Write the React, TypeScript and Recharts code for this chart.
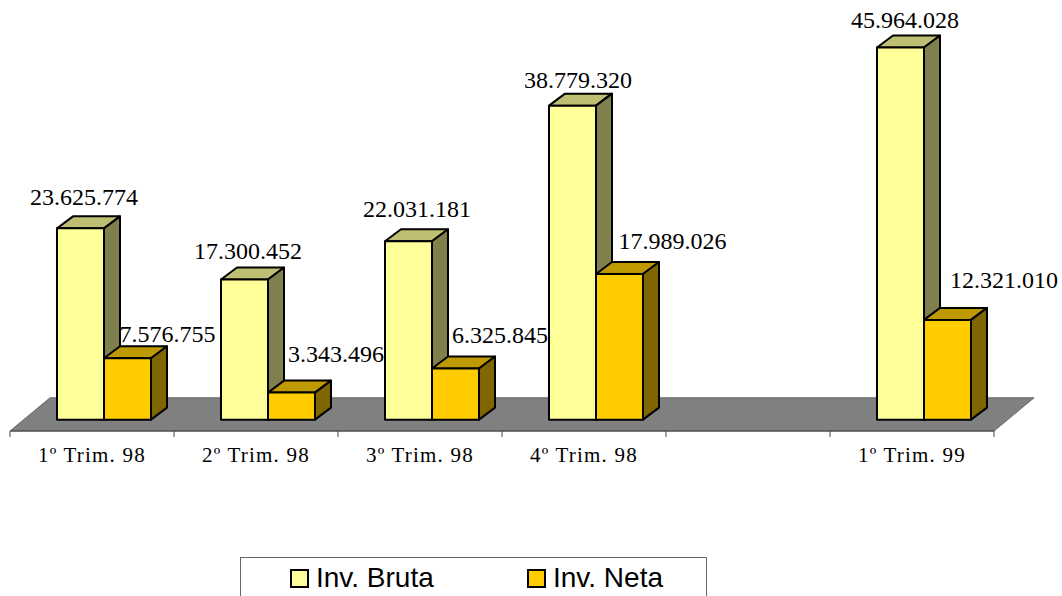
import { Bar, BarChart, LabelList, Legend, ReferenceArea, XAxis, YAxis } from "recharts";

const categories = ["1º Trim. 98", "2º Trim. 98", "3º Trim. 98", "4º Trim. 98", "", "1º Trim. 99"];
const invBruta = [23625774, 17300452, 22031181, 38779320, null, 45964028];
const invNeta = [7576755, 3343496, 6325845, 17989026, null, 12321010];

// label placement, one entry per drawn bar (the empty category has none)
const brutaLabelDx = [27, 27, 32, 29, 28];
const brutaLabelRise = [23, 21, 24, 18, 19];
const netaLabelDx = [63.5, 68, 68, 76.5, 80];
const netaLabelRise = [16, 31, 25, 25, 32];

const data = categories.map((name, i) => ({ name, bruta: invBruta[i], neta: invNeta[i] }));

const BAR_SHIFT = 12;
const DEPTH_X = 16;
const DEPTH_Y = 12;
const BRUTA = { front: "#FFFF99", top: "#BFBF73", side: "#80804D" };
const NETA = { front: "#FFCC00", top: "#BF9900", side: "#806600" };

const fmt = (v: number) => v.toLocaleString("de-DE");

const Box3D = (colors: typeof BRUTA) => (props: any) => {
  const { x, y, width, height } = props;
  if (!height) return null;
  const l = x + BAR_SHIFT;
  const r = l + width;
  const b = y + height;
  return (
    <g stroke="#000" strokeWidth={2} strokeLinejoin="round">
      <polygon
        points={`${l},${y} ${l + DEPTH_X},${y - DEPTH_Y} ${r + DEPTH_X},${y - DEPTH_Y} ${r},${y}`}
        fill={colors.top}
      />
      <polygon
        points={`${r},${y} ${r + DEPTH_X},${y - DEPTH_Y} ${r + DEPTH_X},${b - DEPTH_Y} ${r},${b}`}
        fill={colors.side}
      />
      <rect x={l} y={y} width={width} height={height} fill={colors.front} />
    </g>
  );
};

const barLabel = (dx: number[], rise: number[]) => (props: any) => {
  const { x, y, value, index } = props;
  if (value == null) return null;
  return (
    <text
      x={x + BAR_SHIFT + dx[index]}
      y={y - rise[index]}
      textAnchor="middle"
      fontFamily="Liberation Serif"
      fontSize={24}
      fill="#000"
    >
      {fmt(value)}
    </text>
  );
};

const Floor = (props: any) => {
  const { x, y, width, height } = props;
  const b = y + height;
  return (
    <polygon
      points={`${x},${b} ${x + width},${b} ${x + width + 40},${y} ${x + 40},${y}`}
      fill="#808080"
      stroke="#666"
      strokeWidth={1}
    />
  );
};

const CategoryTick = (props: any) => {
  const { x, y, payload, index } = props;
  const half = 82;
  return (
    <g>
      <line x1={x - half} x2={x - half} y1={y} y2={y + 6} stroke="#444" />
      {index === categories.length - 1 && (
        <line x1={x + half} x2={x + half} y1={y} y2={y + 6} stroke="#444" />
      )}
      <text
        x={x}
        y={y + 31}
        textAnchor="middle"
        fontFamily="Liberation Serif"
        fontSize={21}
        letterSpacing={1.2}
        fill="#000"
      >
        {payload.value}
      </text>
    </g>
  );
};

const LegendBox = (props: any) => {
  const starts = [49, 286];
  return (
    <div
      style={{
        position: "relative",
        width: 467,
        height: 60,
        boxSizing: "border-box",
        border: "1px solid #666",
        background: "#fff",
      }}
    >
      {(props.payload || []).map((item: any, i: number) => (
        <div key={item.value}>
          <div
            style={{
              position: "absolute",
              left: starts[i],
              top: 11,
              width: 19,
              height: 19,
              boxSizing: "border-box",
              border: "2px solid #000",
              background: item.color,
            }}
          />
          <div
            style={{
              position: "absolute",
              left: starts[i] + 26,
              top: 3,
              fontFamily: "Liberation Sans",
              fontSize: 28,
              lineHeight: "34px",
              color: "#000",
              whiteSpace: "nowrap",
            }}
          >
            {item.value}
          </div>
        </div>
      ))}
    </div>
  );
};

export default function App() {
  return (
    <div style={{ position: "absolute", left: 0, top: 0, width: 1062, height: 596, overflow: "hidden" }}>
      <BarChart
        width={1062}
        height={596}
        data={data}
        margin={{ top: 18, right: 68, bottom: 135, left: 10 }}
        barSize={47}
        barGap={0}
      >
        <XAxis
          dataKey="name"
          height={30}
          interval={0}
          tick={<CategoryTick />}
          tickSize={0}
          tickMargin={0}
          tickLine={false}
          axisLine={{ stroke: "#444" }}
        />
        <YAxis hide domain={[-1400000, 49600000]} allowDataOverflow />
        <ReferenceArea y1={-1400000} y2={2700000} shape={<Floor />} />
        <Bar dataKey="bruta" name="Inv. Bruta" fill={BRUTA.front} shape={Box3D(BRUTA)} isAnimationActive={false}>
          <LabelList dataKey="bruta" content={barLabel(brutaLabelDx, brutaLabelRise)} />
        </Bar>
        <Bar dataKey="neta" name="Inv. Neta" fill={NETA.front} shape={Box3D(NETA)} isAnimationActive={false}>
          <LabelList dataKey="neta" content={barLabel(netaLabelDx, netaLabelRise)} />
        </Bar>
        <Legend
          layout="vertical"
          align="center"
          verticalAlign="middle"
          wrapperStyle={{ position: "absolute", left: 240, top: 557, width: 467 }}
          content={<LegendBox />}
        />
      </BarChart>
    </div>
  );
}
